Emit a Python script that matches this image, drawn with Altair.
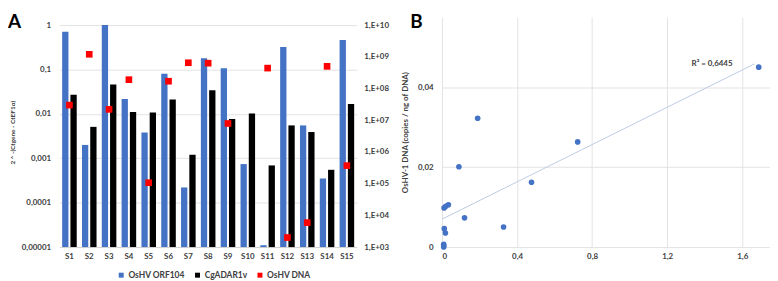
import altair as alt
import pandas as pd

# ---------------- data: panel A ----------------
samples = ["S1", "S2", "S3", "S4", "S5", "S6", "S7", "S8", "S9", "S10",
           "S11", "S12", "S13", "S14", "S15"]
orf104 = [0.71, 0.0020, 1.0, 0.0215, 0.0038, 0.080, 0.00022, 0.18, 0.106,
          0.00074, 0.000011, 0.32, 0.0055, 0.00035, 0.46]
adar = [0.027, 0.0051, 0.046, 0.011, 0.0107, 0.021, 0.0012, 0.034, 0.0077,
        0.0102, 0.00069, 0.0055, 0.0039, 0.00055, 0.0166]
dna = [3.0e7, 1.2e9, 2.2e7, 1.9e8, 1.07e5, 1.7e8, 6.5e8, 6.3e8, 7.9e6,
       None, 4.4e8, 2.0e3, 5.9e3, 5.0e8, 3.7e5]

series_names = ["OsHV ORF104", "CgADAR1v", "OsHV DNA"]
series_colors = ["#4472C4", "#000000", "#FF0000"]

left_ticks = [1, 0.1, 0.01, 0.001, 0.0001, 0.00001]
left_labels = ["1", "0,1", "0,01", "0,001", "0,0001", "0,00001"]
right_ticks = [1e10, 1e9, 1e8, 1e7, 1e6, 1e5, 1e4, 1e3]
right_labels = ["1,E+10", "1,E+09", "1,E+08", "1,E+07", "1,E+06",
                "1,E+05", "1,E+04", "1,E+03"]
bar_base = 1e-5

# ---------------- data: panel B ----------------
scatter_x = [1.688, 0.19, 0.723, 0.477, 0.328, 0.12, 0.09, 0.011, 0.02,
             0.034, 0.012, 0.018, 0.009, 0.009, 0.009]
scatter_y = [0.0450, 0.0322, 0.0263, 0.0162, 0.0050, 0.0073, 0.0201, 0.0098,
             0.0102, 0.0106, 0.0046, 0.0035, 0.0007, 0.0003, 0.0]
bx_ticks = [0, 0.4, 0.8, 1.2, 1.6]
bx_labels = ["0", "0,4", "0,8", "1,2", "1,6"]
by_ticks = [0, 0.02, 0.04]
by_labels = ["0", "0,02", "0,04"]
r2_label = ["R² = 0,6445"]
r2_pos_x = [1.33]
r2_pos_y = [0.0458]

TXT = "#404040"
GRID = "#e3e3e3"


def log_expr(vals, labs):
    e = "''"
    for v, l in zip(vals, labs):
        e = f"abs(log(datum.value) - log({float(v)!r})) < 0.01 ? '{l}' : ({e})"
    return e


def lin_expr(vals, labs):
    e = "''"
    for v, l in zip(vals, labs):
        e = f"abs(datum.value - {float(v)!r}) < 1e-9 ? '{l}' : ({e})"
    return e


bar_rows = []
for s, a, b in zip(samples, orf104, adar):
    bar_rows.append({"sample": s, "series": series_names[0], "value": a, "base": bar_base})
    bar_rows.append({"sample": s, "series": series_names[1], "value": b, "base": bar_base})
bars_df = pd.DataFrame(bar_rows)
pts_df = pd.DataFrame([{"sample": s, "series": series_names[2], "value": v}
                       for s, v in zip(samples, dna) if v is not None])

color_scale = alt.Scale(domain=series_names, range=series_colors)
x_enc = alt.X("sample:N", sort=samples,
              scale=alt.Scale(paddingInner=0.265, paddingOuter=0.1325),
              axis=alt.Axis(title=None, labelAngle=0, ticks=False,
                            domainColor="#d0d0d0", labelPadding=6, grid=False))

legend = alt.Legend(title=None, orient="none", legendX=58, legendY=256,
                    direction="horizontal", symbolType="square", symbolSize=25,
                    labelFontSize=8.5, labelColor=TXT, labelFont="Lato",
                    labelFontWeight="bold", columnPadding=8, labelOffset=3)

bars = alt.Chart(bars_df).mark_bar().encode(
    x=x_enc,
    xOffset=alt.XOffset("series:N", sort=series_names[:2],
                        scale=alt.Scale(paddingInner=0.24, paddingOuter=0)),
    y=alt.Y("value:Q",
            scale=alt.Scale(type="log", domain=[1e-5, 10 ** 0.1786], nice=False),
            axis=alt.Axis(values=left_ticks, labelExpr=log_expr(left_ticks, left_labels),
                          grid=True, gridColor=GRID, domain=False, ticks=False,
                          labelPadding=9, title="2 ^ -(Ctgene - CtEF1α)",
                          titleFontSize=6.5, titlePadding=6)),
    y2="base:Q",
    color=alt.Color("series:N", scale=color_scale, legend=legend),
)

points = alt.Chart(pts_df).mark_point(shape="square", filled=True, size=45,
                                      opacity=1).encode(
    x=x_enc,
    y=alt.Y("value:Q",
            scale=alt.Scale(type="log", domain=[1e3, 10 ** 10.25], nice=False),
            axis=alt.Axis(values=right_ticks, labelExpr=log_expr(right_ticks, right_labels),
                          orient="right", grid=False, domain=False, ticks=False,
                          labelPadding=7, title=None)),
    color=alt.Color("series:N", scale=color_scale, legend=legend),
)

letter_a = alt.Chart(pd.DataFrame({"t": ["A"]})).mark_text(
    fontSize=19, fontWeight="bold", font="Lato", align="left", baseline="top",
    color="#000000").encode(text="t:N", x=alt.value(-52), y=alt.value(-4))

panel_a = alt.layer(bars, points, letter_a).resolve_scale(y="independent").properties(
    width=300, height=232)

# ---------------- panel B ----------------
sc_df = pd.DataFrame({"x": scatter_x, "y": scatter_y})
bx = alt.X("x:Q", scale=alt.Scale(domain=[0, 1.748], nice=False, zero=False),
           axis=alt.Axis(values=bx_ticks, labelExpr=lin_expr(bx_ticks, bx_labels),
                         grid=True, gridColor=GRID, domain=False, ticks=False,
                         labelPadding=6, title=None))
by = alt.Y("y:Q", scale=alt.Scale(domain=[0, 0.0575], nice=False, zero=False),
           axis=alt.Axis(values=by_ticks, labelExpr=lin_expr(by_ticks, by_labels),
                         grid=True, gridColor=GRID, domain=False, ticks=False,
                         labelPadding=9, title="OsHV-1 DNA (copies / ng of DNA)",
                         titleFontSize=8, titlePadding=8))

trend = alt.Chart(sc_df).transform_regression(
    "x", "y", extent=[0, 1.665]).mark_line(color="#bccbe4", strokeWidth=1).encode(x=bx, y=by)

dots = alt.Chart(sc_df).mark_circle(size=32, color="#4472C4", opacity=1).encode(x=bx, y=by)

r2 = alt.Chart(pd.DataFrame({"t": r2_label, "x": r2_pos_x, "y": r2_pos_y})).mark_text(
    align="left", baseline="middle", fontSize=8, font="Lato", fontWeight="bold",
    color=TXT).encode(x=bx, y=by, text="t:N")

letter_b = alt.Chart(pd.DataFrame({"t": ["B"]})).mark_text(
    fontSize=19, fontWeight="bold", font="Lato", align="left", baseline="top",
    color="#000000").encode(text="t:N", x=alt.value(-32), y=alt.value(-4))

panel_b = alt.layer(trend, dots, r2, letter_b).properties(width=331, height=232)

chart = alt.hconcat(panel_a, panel_b, spacing=86, bounds="flush").properties(
    padding={"top": 4, "left": 0, "right": 0, "bottom": 0}
).configure_view(stroke=None).configure_axis(
    labelFont="Lato", labelFontSize=8, labelColor=TXT, labelFontWeight="bold",
    titleFont="Lato", titleColor=TXT, titleFontWeight="bold"
)

chart.save("out.html", embed_options={"renderer": "svg", "actions": False})
